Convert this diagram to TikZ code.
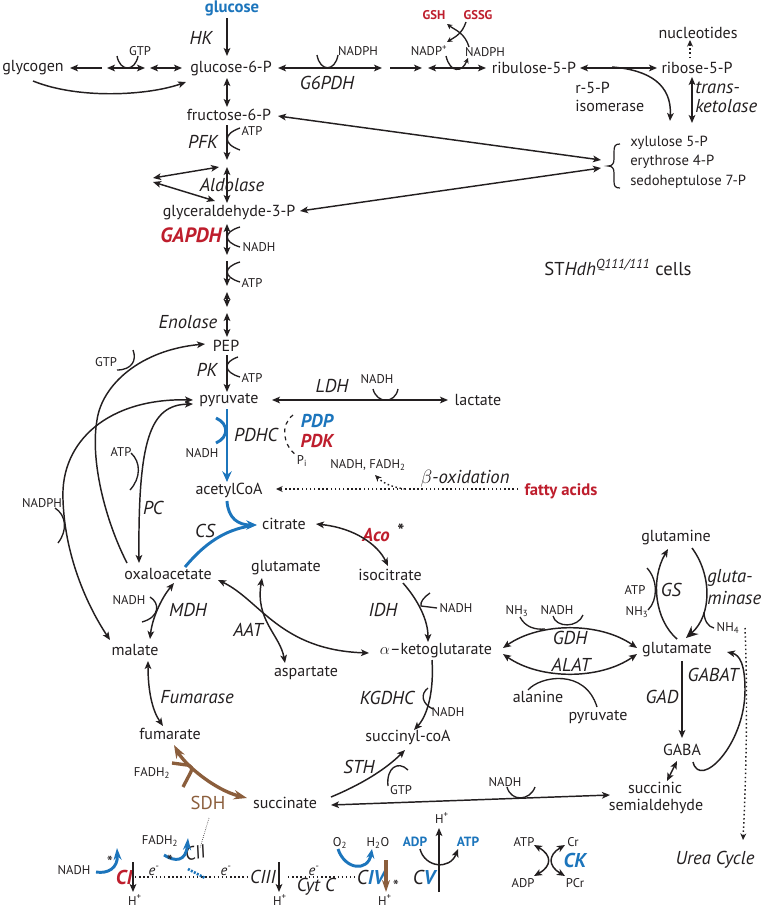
\documentclass[tikz,border=0pt]{standalone}
\usepackage{fontspec}
\setmainfont{PT Sans}
\usetikzlibrary{arrows.meta}
\definecolor{tblue}{RGB}{28,117,188}
\definecolor{tred}{RGB}{190,30,45}
\definecolor{tbrown}{RGB}{139,94,60}
\definecolor{tk}{RGB}{35,31,32}
\begin{document}
\begin{tikzpicture}[x=0.75pt,y=-0.75pt,
  every node/.style={inner sep=0pt, text=tk},
  met/.style={font=\fontsize{12}{14}\selectfont},
  sm/.style={font=\fontsize{9.5}{11}\selectfont},
  enz/.style={font=\fontsize{14}{16}\selectfont\itshape},
  rb/.style={font=\fontsize{14}{16}\selectfont\bfseries\itshape, text=tred},
  bb/.style={font=\fontsize{14}{16}\selectfont\bfseries\itshape, text=tblue},
  ln/.style={draw=tk, line width=1.1pt},
  ar/.style={ln, -{Stealth[length=6pt,width=5pt,inset=1.5pt]}},
  dar/.style={ln, {Stealth[length=6pt,width=5pt,inset=1.5pt]}-{Stealth[length=6pt,width=5pt,inset=1.5pt]}},
  cup/.style={draw=tk, line width=1pt},
  dotar/.style={draw=tk, line width=1.1pt, dotted, -{Stealth[length=5pt,width=4.5pt]}},
  bl/.style={draw=tblue, line width=2.2pt},
  br/.style={draw=tbrown, line width=2.5pt},
]
\useasboundingbox (0,0) rectangle (767,910);

% ---------- top ----------
\node[font=\fontsize{12.5}{14}\selectfont\bfseries, text=tblue] (glc) at (232,8) {glucose};
\node[met] (g6p) at (231,68) {glucose-6-P};
\node[enz] (hk) at (201,38) {HK};
\draw[ar] (227,18) -- (227,56);
\node[met] (glyc) at (33,68) {glycogen};
\draw[ar] (102,68) -- (70,68);
\draw[dar] (107,68) -- (145,68);
\draw[cup] (117,56) .. controls (120,72) and (135,72) .. (138,56);
\node[sm] (gtp1) at (140,51) {GTP};
\draw[dar] (150,68) -- (182,68);
\draw[ar] (33,81) .. controls (80,100) and (150,95) .. (186,82);

\draw[dar] (278,68) -- (382,68);
\draw[cup] (317,55) .. controls (320,72) and (335,72) .. (338,55);
\node[sm] (nadph1) at (358,51) {NADPH};
\node[enz] (g6pdh) at (327,83) {G6PDH};
\draw[ar] (390,68) -- (422,68);
\draw[dar] (428,68) -- (486,68);
\draw[cup,-{Stealth[length=4pt,width=4pt]}] (446,56) .. controls (450,73) and (462,73) .. (468,58);
\node[sm] (nadp) at (429,51) {NADP\textsuperscript{+}};
\node[sm] (nadph2) at (485,52) {NADPH};
\node[font=\fontsize{9.5}{10}\selectfont\bfseries, text=tred] (gsh) at (434,15) {GSH};
\node[font=\fontsize{9.5}{10}\selectfont\bfseries, text=tred] (gssg) at (478,15) {GSSG};
\draw[cup,-{Stealth[length=4pt,width=4pt]}] (466,22) .. controls (462,34) and (455,37) .. (447,42);
\draw[cup,-{Stealth[length=4pt,width=4pt]}] (469,47) .. controls (465,33) and (455,30) .. (447,24);
\node[met] (ru5p) at (534,68) {ribulose-5-P};
\draw[dar] (580,68) -- (657,68);
\node[met] (r5p) at (697,68) {ribose-5-P};
\node[met] (nucl) at (698,33) {nucleotides};
\draw[dotar] (690,58) -- (690,40);
\draw[ar] (612,67) .. controls (650,70) and (672,85) .. (670,121);
\node[met, anchor=west] (r5pi1) at (575,88) {r-5-P};
\node[met, anchor=west] (r5pi2) at (575,106) {isomerase};
\draw[dar] (692,77) -- (692,123);
\node[enz, anchor=west] (tk1) at (695,88) {trans-};
\node[enz, anchor=west] (tk2) at (695,106) {ketolase};

\draw[line width=0.9pt, draw=tk] (620,144) .. controls (615,144) and (614,146) .. (614,152) -- (614,159) .. controls (614,164) and (612,166) .. (608,166) .. controls (612,166) and (614,168) .. (614,173) -- (614,181) .. controls (614,186) and (615,188) .. (620,188);
\node[font=\fontsize{11}{13}\selectfont, anchor=west] (xy) at (630,143) {xylulose 5-P};
\node[font=\fontsize{11}{13}\selectfont, anchor=west] (ery) at (630,162) {erythrose 4-P};
\node[font=\fontsize{11}{13}\selectfont, anchor=west] (sed) at (630,182) {sedoheptulose 7-P};

% ---------- glycolysis ----------
\draw[dar] (227,78) -- (227,107);
\node[met] (f6p) at (229,115) {fructose-6-P};
\draw[dar] (278,116) -- (601,160);
\draw[ar] (227,125) -- (227,160);
\draw[cup] (240,128) .. controls (223,134) and (223,144) .. (240,150);
\node[sm] (atp1) at (252,131) {ATP};
\node[enz] (pfk) at (203,142) {PFK};
\draw[dar] (227,167) -- (227,203);
\node[enz] (ald) at (232,185) {Aldolase};
\draw[dar] (153,178) -- (219,167);
\draw[dar] (153,182) -- (215,201);
\node[met] (gap) at (229,213) {glyceraldehyde-3-P};
\draw[dar] (300,211) -- (601,168);
\node[font=\fontsize{15.5}{17}\selectfont\bfseries\itshape, text=tred] (gapdh) at (191,235) {GAPDH};
\draw[dar] (227,224) -- (227,255);
\draw[cup] (240,227) .. controls (223,232) and (223,242) .. (240,247);
\node[sm] (nadh1) at (259,247) {NADH};
\draw[ar] (227,261) -- (227,286);
\draw[cup] (240,262) .. controls (223,267) and (223,277) .. (240,282);
\node[sm] (atp2) at (252,283) {ATP};
\draw[dar] (227,292) -- (227,307);
\draw[dar] (227,313) -- (227,337);
\node[enz] (eno) at (188,322) {Enolase};
\node[met] (pep) at (226,346) {PEP};
\draw[ar] (227,355) -- (227,392);
\draw[cup] (238,357) .. controls (223,362) and (223,372) .. (240,377);
\node[sm] (atp3) at (252,378) {ATP};
\node[enz] (pk) at (207,370) {PK};
\node[met] (pyr) at (229,400) {pyruvate};

\draw[dar] (272,400) -- (448,400);
\draw[cup] (373,389) .. controls (377,404) and (395,404) .. (398,389);
\node[sm] (nadh2) at (377,379) {NADH};
\node[enz] (ldh) at (332,386) {LDH};
\node[met] (lac) at (478,400) {lactate};

% ---------- left curves ----------
\draw[ar] (127,563) .. controls (105,520) and (90,460) .. (97,420) .. controls (102,385) and (140,350) .. (205,344);
\draw[cup] (133,350) .. controls (137,360) and (132,370) .. (117,370);
\node[sm] (gtp2) at (106,362) {GTP};
\draw[dar] (193,400) .. controls (110,398) and (60,440) .. (63,500) .. controls (65,560) and (90,610) .. (110,640);
\draw[cup] (55,508) .. controls (66,515) and (68,530) .. (58,543);
\node[sm] (nadph3) at (42,503) {NADPH};
\draw[dar] (193,404) .. controls (150,405) and (138,440) .. (139,563);
\draw[cup] (131,453) .. controls (141,462) and (141,478) .. (130,490);
\node[sm] (atp4) at (121,452) {ATP};
\node[enz] (pc) at (153,508) {PC};

% ---------- PDHC ----------
\draw[bl, -{Stealth[length=8pt,width=7pt]}] (227,409) -- (227,482);
\draw[bl] (216,418) .. controls (229,424) and (229,437) .. (216,443);
\node[sm] (nadh3) at (202,453) {NADH};
\node[enz] (pdhc) at (256,435) {PDHC};
\node[bb] (pdp) at (317,421) {PDP};
\node[rb] (pdk) at (317,441) {PDK};
\draw[tk, line width=0.9pt, dashed] (293,415) .. controls (280,425) and (283,445) .. (296,455);
\node[sm] (pi) at (302,461) {P\textsubscript{i}};
\node[met] (acoa) at (229,490) {acetylCoA};
\draw[dotar] (518,489) -- (276,489);
\draw[dotar] (405,489) .. controls (390,487) and (382,482) .. (375,475);
\node[sm] (nf) at (368,465) {NADH, FADH\textsubscript{2}};
\node[enz] (box) at (465,479) {\(\beta\)-oxidation};
\node[font=\fontsize{12.5}{14}\selectfont\bfseries, text=tred] (fa) at (561,491) {fatty acids};

% ---------- TCA ----------
\node[met] (cit) at (284,524) {citrate};
\draw[bl, -{Stealth[length=8pt,width=7pt]}] (227,501) .. controls (228,518) and (238,525) .. (257,525);
\draw[bl] (185,567) .. controls (205,543) and (225,530) .. (250,526);
\node[enz] (cs) at (205,531) {CS};
\node[rb] (aco) at (376,535) {Aco};
\node[font=\fontsize{14}{15}\selectfont\bfseries] (st1) at (401,531) {*};
\draw[dar] (316,524) .. controls (355,528) and (378,545) .. (388,566);
\node[met] (icit) at (390,575) {isocitrate};
\draw[ar] (403,583) .. controls (418,600) and (428,620) .. (428,642);
\draw[cup] (430,593) .. controls (424,597) and (420,602) .. (421,606) -- (437,608);
\node[sm] (nadh4) at (456,608) {NADH};
\node[enz] (idh) at (383,610) {IDH};
\node[met] (akg) at (436,651) {\(\alpha\)–ketoglutarate};
\draw[ar] (432,660) .. controls (434,690) and (428,715) .. (414,730);
\draw[cup] (428,688) .. controls (420,694) and (422,704) .. (433,709);
\node[sm] (nadh5) at (448,712) {NADH};
\node[enz] (kgdhc) at (387,698) {KGDHC};
\node[met] (scoa) at (408,737) {succinyl-coA};
\draw[ar] (331,797) .. controls (360,785) and (385,770) .. (405,750);
\draw[cup] (408,770) .. controls (398,760) and (386,768) .. (388,786);
\node[sm] (gtp3) at (401,790) {GTP};
\node[enz] (sth) at (359,767) {STH};
\node[met] (succ) at (285,803) {succinate};
\draw[dar] (331,805) -- (610,795);
\draw[cup] (507,787) .. controls (511,802) and (530,801) .. (535,787);
\node[sm] (nadh6) at (505,782) {NADH};
\node[met] (ssa1) at (655,788) {succinic};
\node[met] (ssa2) at (656,806) {semialdehyde};

\node[met] (glu1) at (286,568) {glutamate};
\node[met] (asp) at (306,673) {aspartate};
\node[met] (oaa) at (168,574) {oxaloacetate};
\draw[dar] (218,580) .. controls (260,600) and (280,650) .. (369,653);
\draw[dar] (262,578) .. controls (255,620) and (280,635) .. (285,663);
\node[enz] (aat) at (248,630) {AAT};
\draw[dar] (174,583) .. controls (160,600) and (152,620) .. (150,639);
\draw[cup] (150,597) .. controls (160,603) and (160,617) .. (142,622);
\node[sm] (nadh7) at (129,600) {NADH};
\node[enz] (mdh) at (188,610) {MDH};
\node[met] (mal) at (135,650) {malate};
\draw[dar] (148,661) .. controls (148,690) and (152,710) .. (163,726);
\node[enz] (fumase) at (197,697) {Fumarase};
\node[met] (fum) at (170,734) {fumarate};

\draw[br, {Stealth[open,length=10pt,width=7pt]}-{Stealth[open,length=10pt,width=7pt]}] (174,745) .. controls (185,765) and (215,790) .. (247,798);
\draw[br, rounded corners=5pt] (172,763) -- (194,766) -- (183,787);
\node[sm] (fadh1) at (152,773) {FADH\textsubscript{2}};
\node[font=\fontsize{14}{16}\selectfont, text=tbrown] (sdh) at (208,803) {SDH};
\draw[tk, line width=0.5pt, densely dotted] (209,818) -- (200,848);

% ---------- ETC ----------
\draw[tk, line width=1.1pt, dotted] (135,877) -- (248,877);
\draw[tk, line width=1.1pt, dotted] (288,877) -- (355,877);
\node[font=\fontsize{15}{16}\selectfont\bfseries\itshape, text=tred] (ci) at (124,877) {CI};
\draw[ar] (133,862) -- (133,892);
\node[sm] (h1) at (135,900) {H\textsuperscript{+}};
\node[sm] (nadh8) at (74,870) {NADH};
\draw[bl, -{Stealth[open,length=9pt,width=6pt]}] (96,872) .. controls (108,874) and (118,868) .. (117,848);
\node[font=\fontsize{13}{14}\selectfont] (st2) at (110,862) {*};
\node[font=\fontsize{11}{12}\selectfont\itshape] (e1) at (154,871) {e\textsuperscript{-}};
\node[font=\fontsize{11}{12}\selectfont\itshape] (e2) at (226,871) {e\textsuperscript{-}};
\node[font=\fontsize{11}{12}\selectfont\itshape] (e3) at (314,871) {e\textsuperscript{-}};
\draw[draw=tblue, line width=2pt, dash pattern=on 1.5pt off 1pt] (188,869) -- (205,878);
\node[enz, rotate=15] (cii) at (195,853) {CII};
\draw[bl, -{Stealth[open,length=9pt,width=6pt]}] (164,855) .. controls (175,862) and (186,862) .. (188,838);
\node[sm] (fadh2) at (160,841) {FADH\textsubscript{2}};
\node[font=\fontsize{13}{14}\selectfont] (st3) at (170,861) {*};
\node[enz] (ciii) at (263,877) {CIII};
\draw[ar] (279,862) -- (279,892);
\node[sm] (h2) at (280,900) {H\textsuperscript{+}};
\node[enz] (cytc) at (316,887) {Cyt C};
\node[font=\fontsize{15}{16}\selectfont\itshape] (civ) at (371,877) {C\textcolor{tblue}{\bfseries IV}};
\node[sm] (o2) at (340,843) {O\textsubscript{2}};
\node[sm] (h2o) at (378,843) {H\textsubscript{2}O};
\draw[bl, -{Stealth[length=7pt,width=6pt]}] (338,849) .. controls (345,870) and (368,872) .. (372,849);
\draw[br, -{Stealth[open,length=9pt,width=6pt]}] (386,860) -- (386,892);
\node[font=\fontsize{13}{14}\selectfont] (st4) at (396,886) {*};
\node[sm] (h3) at (385,900) {H\textsuperscript{+}};
\draw[ar] (439,892) -- (439,828);
\node[sm] (h4) at (442,818) {H\textsuperscript{+}};
\node[font=\fontsize{10}{11}\selectfont\bfseries, text=tblue] (adp1) at (415,842) {ADP};
\node[font=\fontsize{10}{11}\selectfont\bfseries, text=tblue] (atp5) at (468,842) {ATP};
\draw[ar] (420,849) .. controls (425,868) and (450,870) .. (458,849);
\node[font=\fontsize{15}{16}\selectfont\itshape] (cv) at (424,877) {C\textcolor{tblue}{\bfseries V}};
\node[sm] (atp6) at (524,842) {ATP};
\node[sm] (cr) at (573,842) {Cr};
\node[sm] (adp2) at (523,883) {ADP};
\node[sm] (pcr) at (575,883) {PCr};
\node[bb, font=\fontsize{15}{16}\selectfont\bfseries\itshape] (ck) at (575,860) {CK};
\draw[dar] (534,845) .. controls (552,855) and (552,866) .. (534,876);
\draw[dar] (565,845) .. controls (548,855) and (548,866) .. (565,876);

% ---------- right ----------
\node[met] (gln) at (676,538) {glutamine};
\node[met] (glu2) at (677,650) {glutamate};
\draw[ar] (677,639) .. controls (655,620) and (650,580) .. (668,549);
\draw[cup] (647,568) .. controls (658,580) and (658,600) .. (648,610);
\node[sm] (atp7) at (635,590) {ATP};
\node[sm] (nh3a) at (637,612) {NH\textsubscript{3}};
\node[enz] (gs) at (671,590) {GS};
\draw[ln, -{Stealth[length=9pt,width=8pt]}] (692,548) .. controls (712,575) and (712,615) .. (686,638);
\draw[cup] (704,612) .. controls (704,620) and (708,627) .. (714,628);
\node[sm] (nh4) at (728,628) {NH\textsubscript{4}};
\node[enz, anchor=west] (gl1) at (707,578) {gluta-};
\node[enz, anchor=west] (gl2) at (707,598) {minase};
\draw[dotar] (745,628) .. controls (748,700) and (746,780) .. (743,840);
\node[enz] (urea) at (715,860) {Urea Cycle};
\draw[dar] (503,648) .. controls (540,622) and (600,622) .. (637,648);
\draw[cup] (520,617) .. controls (525,627) and (535,630) .. (545,629);
\draw[cup] (553,616) .. controls (556,628) and (578,628) .. (583,615);
\node[sm] (nh3b) at (517,611) {NH\textsubscript{3}};
\node[sm] (nadh9) at (557,610) {NADH};
\node[enz] (gdh) at (570,638) {GDH};
\draw[dar] (503,654) .. controls (540,680) and (600,680) .. (637,654);
\node[enz] (alat) at (571,665) {ALAT};
\draw[cup] (528,690) .. controls (540,676) and (585,668) .. (597,707);
\node[met] (ala) at (538,697) {alanine};
\node[met] (pyr2) at (598,717) {pyruvate};
\draw[ar] (682,661) -- (682,738);
\node[enz] (gad) at (662,697) {GAD};
\node[enz] (gabat) at (713,675) {GABAT};
\node[met] (gaba) at (682,750) {GABA};
\draw[dar] (677,761) -- (667,781);
\draw[ar] (693,762) .. controls (700,790) and (745,745) .. (745,690) .. controls (745,665) and (740,655) .. (727,652);

\node[font=\fontsize{14}{16}\selectfont] (title) at (618,267) {ST\textit{Hdh}\textsuperscript{\textit{Q111/111}} cells};
\end{tikzpicture}
\end{document}
